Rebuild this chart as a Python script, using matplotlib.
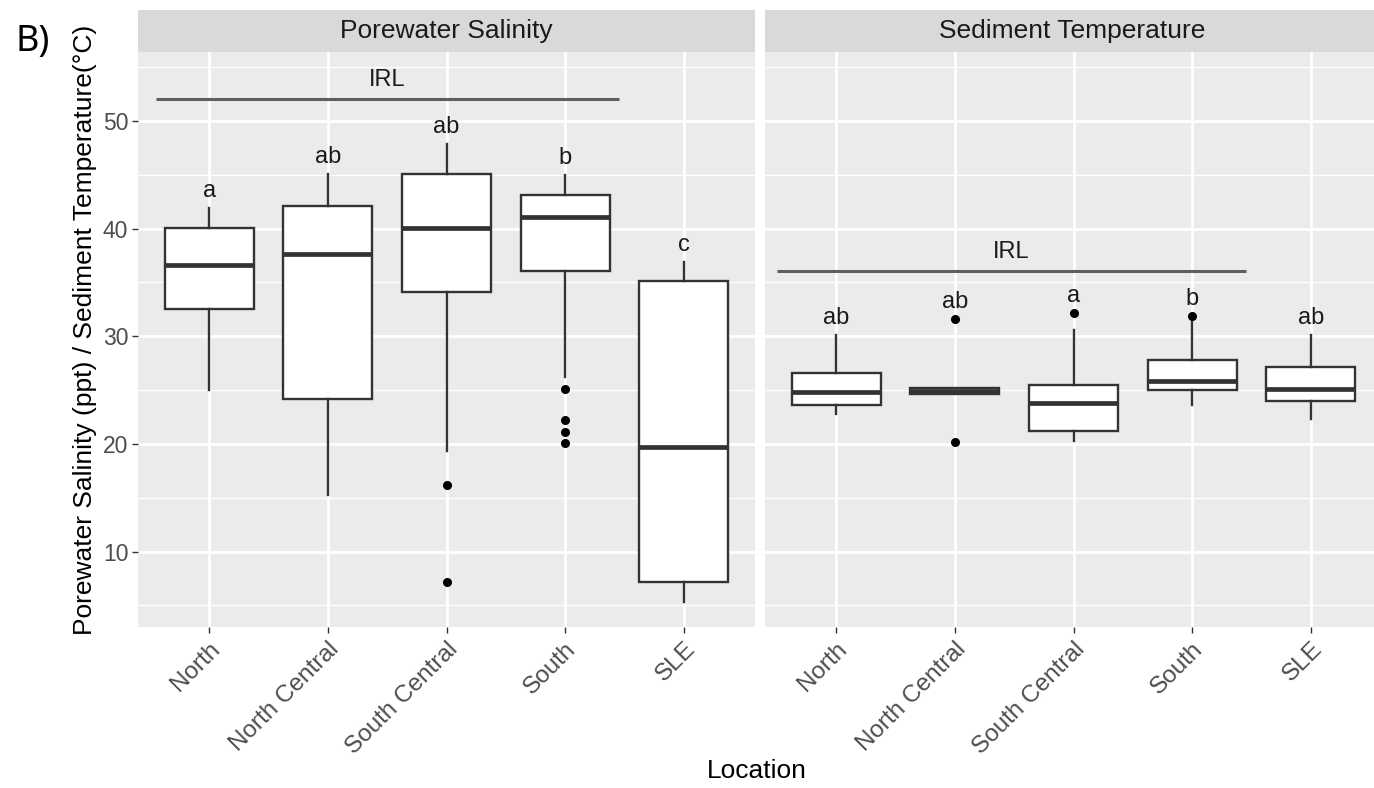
import matplotlib
matplotlib.use("Agg")
import matplotlib.pyplot as plt
from matplotlib.ticker import FixedLocator

plt.rcParams['font.family'] = ['Liberation Sans', 'DejaVu Sans']

# ---- data -------------------------------------------------------------
locations = ["North", "North Central", "South Central", "South", "SLE"]
panel_titles = ["Porewater Salinity", "Sediment Temperature"]

# Porewater salinity (ppt): five-number summaries and outliers
sal_whislo = [25.0, 15.3, 19.3, 26.2, 5.3]
sal_q1 = [32.5, 24.2, 34.1, 36.1, 7.2]
sal_med = [36.6, 37.6, 40.1, 41.1, 19.7]
sal_q3 = [40.1, 42.1, 45.1, 43.1, 35.1]
sal_whishi = [41.9, 45.1, 47.9, 45.0, 36.9]
sal_fliers = [[], [], [16.2, 7.2], [25.1, 22.2, 21.1, 20.1], []]
sal_letters = ["a", "ab", "ab", "b", "c"]
sal_irl_y = 52.0
sal_irl_span = (0.55, 4.45)

# Sediment temperature (°C)
tmp_whislo = [22.8, 24.6, 20.3, 23.6, 22.3]
tmp_q1 = [23.6, 24.6, 21.2, 25.0, 24.0]
tmp_med = [24.8, 24.9, 23.8, 25.8, 25.1]
tmp_q3 = [26.6, 25.2, 25.5, 27.8, 27.1]
tmp_whishi = [30.1, 25.2, 30.6, 31.5, 30.1]
tmp_fliers = [[], [31.6, 20.2], [32.2], [31.9], []]
tmp_letters = ["ab", "ab", "a", "b", "ab"]
tmp_irl_y = 36.1
tmp_irl_span = (0.50, 4.45)

group_label = "IRL"
y_ticks = [10, 20, 30, 40, 50]

# ---- figure -----------------------------------------------------------
W, H = 1374, 788
fig = plt.figure(figsize=(W / 100, H / 100), dpi=100)


def px_axes(x0, y0, w, h):
    return fig.add_axes([x0 / W, 1 - (y0 + h) / H, w / W, h / H])


EDGE = '#333333'
PANEL_TOP, PANEL_H = 52, 575
STRIP_TOP = 10
PANEL_W = 617

panels = [
    dict(x0=138, lo=sal_whislo, q1=sal_q1, med=sal_med, q3=sal_q3, hi=sal_whishi,
         fl=sal_fliers, letters=sal_letters, irl_y=sal_irl_y, irl_span=sal_irl_span),
    dict(x0=765, lo=tmp_whislo, q1=tmp_q1, med=tmp_med, q3=tmp_q3, hi=tmp_whishi,
         fl=tmp_fliers, letters=tmp_letters, irl_y=tmp_irl_y, irl_span=tmp_irl_span),
]

positions = list(range(1, len(locations) + 1))

for i, p in enumerate(panels):
    ax = px_axes(p['x0'], PANEL_TOP, PANEL_W, PANEL_H)
    ax.set_facecolor('#EBEBEB')
    for s in ax.spines.values():
        s.set_visible(False)

    stats = []
    for k in range(len(locations)):
        stats.append(dict(med=p['med'][k], q1=p['q1'][k], q3=p['q3'][k],
                          whislo=p['lo'][k], whishi=p['hi'][k], fliers=p['fl'][k]))
    ax.bxp(stats, positions=positions, widths=0.75, patch_artist=True,
           showcaps=False, showfliers=True, manage_ticks=False,
           boxprops=dict(facecolor='white', edgecolor=EDGE, lw=1.7),
           whiskerprops=dict(color=EDGE, lw=1.7),
           medianprops=dict(color=EDGE, lw=3.4, solid_capstyle='butt'),
           flierprops=dict(marker='o', markerfacecolor='black',
                           markeredgecolor='black', markersize=5.5))

    ax.set_xlim(0.4, 5.6)
    ax.set_ylim(3.0, 56.4)
    ax.yaxis.set_major_locator(FixedLocator(y_ticks))
    ax.yaxis.set_minor_locator(FixedLocator([5, 15, 25, 35, 45, 55]))
    ax.grid(which='major', color='white', lw=2.0)
    ax.grid(which='minor', axis='y', color='white', lw=1.0)
    ax.set_axisbelow(True)

    ax.set_xticks(positions)
    ax.set_xticklabels(locations, rotation=45, ha='right', va='top',
                       rotation_mode='anchor', fontsize=17.5, color='#4D4D4D')
    ax.tick_params(axis='x', length=4, width=1.0, color=EDGE, pad=4)
    ax.tick_params(axis='y', which='minor', length=0)
    if i == 0:
        ax.tick_params(axis='y', length=4, width=1.0, color=EDGE, labelsize=16.5,
                       labelcolor='#4D4D4D', pad=3)
    else:
        ax.tick_params(axis='y', length=0, labelleft=False)

    # significance letters just above each group's highest point
    for k, letter in enumerate(p['letters']):
        top = max([p['hi'][k]] + list(p['fl'][k]))
        ax.text(positions[k], top + 1.0, letter, ha='center', va='baseline',
                fontsize=17, color='#1A1A1A')

    # IRL bracket
    ax.plot(p['irl_span'], [p['irl_y'], p['irl_y']], color='#5F5F5F', lw=2.2,
            solid_capstyle='butt')
    ax.text(sum(p['irl_span']) / 2, p['irl_y'] + 1.2, group_label, ha='center',
            va='baseline', fontsize=17, color='#1A1A1A')

    # facet strip
    sx = px_axes(p['x0'], STRIP_TOP, PANEL_W, PANEL_TOP - STRIP_TOP)
    sx.set_facecolor('#D9D9D9')
    sx.set_xticks([])
    sx.set_yticks([])
    for s in sx.spines.values():
        s.set_visible(False)
    sx.text(0.5 if i == 0 else (1374 - 765) / 2 / PANEL_W + 0.005, 0.5,
            panel_titles[i], transform=sx.transAxes, ha='center', va='center',
            fontsize=19, color='#1A1A1A')

fig.text(85 / W, 1 - 330 / H, "Porewater Salinity (ppt) / Sediment Temperature(°C)",
         rotation=90, ha='center', va='center', fontsize=19, color='black')
fig.text(757 / W, 1 - 771 / H, "Location", ha='center', va='center',
         fontsize=19, color='black')
fig.text(33 / W, 1 - 42 / H, "B)", ha='center', va='center', fontsize=26,
         color='black', family=['Noto Sans', 'DejaVu Sans'])

fig.savefig("out.png", dpi=100)
